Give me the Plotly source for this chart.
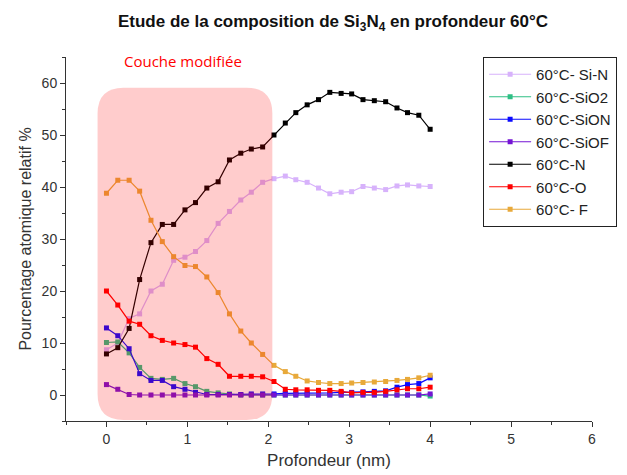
import plotly.graph_objects as go

# Depth (nm)
depth = [0.00, 0.14, 0.28, 0.41, 0.55, 0.69, 0.83, 0.97, 1.10, 1.24,
         1.38, 1.52, 1.66, 1.79, 1.93, 2.07, 2.21, 2.34, 2.48, 2.62,
         2.76, 2.90, 3.03, 3.17, 3.31, 3.45, 3.59, 3.72, 3.86, 4.00]

si_n = [8.7, 10.0, 14.7, 15.6, 20.0, 21.3, 25.9, 26.5, 27.6, 29.7,
        33.0, 35.3, 37.5, 39.0, 40.9, 41.6, 42.1, 41.4, 40.9, 39.8,
        38.7, 39.0, 39.1, 40.1, 39.8, 39.5, 40.2, 40.4, 40.2, 40.1]
sio2 = [10.1, 10.2, 8.1, 5.3, 3.2, 3.0, 3.2, 2.2, 1.6, 0.7,
        0.4, 0.2, 0.0, 0.0, 0.0, 0.0, 0.0, 0.0, 0.0, 0.0,
        0.0, 0.0, 0.0, 0.0, 0.0, 0.0, 0.0, 0.0, 0.0, -0.2]
sion = [12.9, 11.4, 8.9, 4.1, 2.8, 2.8, 1.6, 1.1, 0.5, 0.1,
        0.1, 0.1, 0.1, 0.2, 0.2, 0.2, 0.3, 0.3, 0.3, 0.4,
        0.4, 0.5, 0.5, 0.6, 0.7, 0.8, 1.5, 2.0, 2.2, 3.3]
siof = [2.0, 1.1, 0.1, 0.0, 0.0, 0.0, 0.0, 0.0, 0.0, 0.0,
        0.0, 0.0, 0.0, 0.0, 0.0, 0.0, 0.0, 0.0, 0.0, 0.0,
        0.0, 0.0, 0.0, 0.0, 0.0, 0.0, 0.0, 0.0, 0.0, 0.2]
n_vals = [7.9, 9.1, 12.8, 22.2, 29.3, 32.8, 32.8, 35.6, 37.0, 39.8,
          41.0, 45.2, 46.5, 47.3, 47.7, 50.0, 52.3, 54.3, 55.8, 56.8,
          58.2, 58.0, 57.9, 56.8, 56.6, 56.4, 55.2, 54.3, 53.8, 51.1]
o_vals = [20.0, 17.3, 14.2, 13.6, 11.4, 10.5, 10.0, 9.7, 9.2, 7.0,
          5.9, 3.6, 3.6, 3.6, 3.5, 2.6, 1.1, 1.0, 1.0, 0.9,
          0.9, 0.7, 0.4, 0.5, 0.5, 0.7, 1.0, 1.2, 1.2, 1.5]
f_vals = [38.8, 41.3, 41.3, 39.2, 33.6, 29.5, 26.6, 24.9, 24.7, 22.7,
          19.7, 15.6, 12.3, 10.0, 7.8, 5.7, 4.5, 3.6, 2.7, 2.4,
          2.2, 2.2, 2.3, 2.4, 2.5, 2.6, 2.8, 3.0, 3.3, 3.8]

series_names = ["60°C- Si-N", "60°C-SiO2", "60°C-SiON", "60°C-SiOF",
                "60°C-N", "60°C-O", "60°C- F"]
series_values = [si_n, sio2, sion, siof, n_vals, o_vals, f_vals]
series_colors = ["#d7b2fb", "#2fbf85", "#0a0aff", "#7414d4",
                 "#000000", "#ff0000", "#e8a93a"]

# Modified layer region (nm / %)
layer_x = [-0.11, 2.05]
layer_y = [-4.8, 59.1]
layer_label = "Couche modifiée"

fig = go.Figure()
for name, vals, col in zip(series_names, series_values, series_colors):
    fig.add_trace(go.Scatter(
        x=depth, y=vals, name=name, mode="lines+markers",
        line=dict(color=col, width=1.2),
        marker=dict(symbol="square", size=5, color=col),
    ))

# rounded rectangle path
x0, x1 = layer_x
y0, y1 = layer_y
rx, ry = 0.32, 5.0
path = (f"M {x0+rx},{y1} L {x1-rx},{y1} Q {x1},{y1} {x1},{y1-ry} "
        f"L {x1},{y0+ry} Q {x1},{y0} {x1-rx},{y0} L {x0+rx},{y0} "
        f"Q {x0},{y0} {x0},{y0+ry} L {x0},{y1-ry} Q {x0},{y1} {x0+rx},{y1} Z")
fig.add_shape(type="path", path=path, xref="x", yref="y",
              fillcolor="rgba(255,0,0,0.2)", line=dict(width=0), layer="above")

fig.add_annotation(x=(x0 + x1) / 2 - 0.03, y=64.3, text=layer_label, showarrow=False,
                   xref="x", yref="y",
                   font=dict(family="Open Sans, Noto Sans, sans-serif", size=15, color="#ff0000"))

fig.update_layout(
    width=619, height=467,
    margin=dict(l=58, r=35, t=49, b=54, autoexpand=False),
    paper_bgcolor="white", plot_bgcolor="white",
    title=dict(text="Etude de la composition de Si<sub>3</sub>N<sub>4</sub> en profondeur 60°C",
               x=0.525, xanchor="center", y=0.972, yanchor="middle",
               font=dict(family="Liberation Sans, Arial, sans-serif", size=17, color="#111111",
                         weight="bold")),
    font=dict(family="Liberation Sans, Arial, sans-serif", color="#333333"),
    showlegend=True,
    legend=dict(x=0.793, y=1.0, xanchor="left", yanchor="top",
                bordercolor="#222222", borderwidth=1, bgcolor="white",
                font=dict(size=15, color="#222222"),
                itemwidth=42, tracegroupgap=0),
)

fig.update_xaxes(range=[-0.5, 6], tickvals=[0, 1, 2, 3, 4, 5, 6],
                 ticks="outside", ticklen=5, tickcolor="#333333",
                 minor=dict(dtick=0.5, ticks="outside", ticklen=3, tickcolor="#333333"),
                 showline=True, linecolor="#333333", linewidth=1,
                 showgrid=False, zeroline=False, automargin=False,
                 tickfont=dict(size=14, color="#333333"),
                 title=dict(text="Profondeur (nm)", font=dict(size=17, color="#333333"), standoff=8))
fig.update_yaxes(range=[-5, 65], tickvals=[0, 10, 20, 30, 40, 50, 60],
                 ticks="outside", ticklen=5, tickcolor="#333333",
                 minor=dict(dtick=5, ticks="outside", ticklen=3, tickcolor="#333333"),
                 showline=True, linecolor="#333333", linewidth=1,
                 showgrid=False, zeroline=False, automargin=False,
                 tickfont=dict(size=14, color="#333333"),
                 title=dict(text="Pourcentage atomique relatif %", font=dict(size=16, color="#333333"), standoff=6))

fig.write_html("out.html")
